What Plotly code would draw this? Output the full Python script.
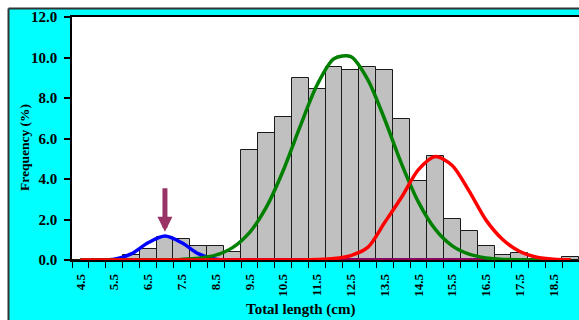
import plotly.graph_objects as go

# Length classes (cm) and observed frequency (%) per 0.5 cm class
lengths = [4.5, 5.0, 5.5, 6.0, 6.5, 7.0, 7.5, 8.0, 8.5, 9.0,
           9.5, 10.0, 10.5, 11.0, 11.5, 12.0, 12.5, 13.0, 13.5, 14.0,
           14.5, 15.0, 15.5, 16.0, 16.5, 17.0, 17.5, 18.0, 18.5, 19.0]
frequency = [0.0, 0.0, 0.0, 0.25, 0.53, 1.12, 1.03, 0.68, 0.68, 0.42,
             5.43, 6.26, 7.08, 8.99, 8.44, 9.55, 9.37, 9.55, 9.37, 6.98,
             3.92, 5.15, 2.01, 1.45, 0.67, 0.23, 0.36, 0.04, 0.0, 0.13]

# Fitted cohort components (%)
cohort_1 = [0.0, 0.0, 0.04, 0.30, 0.85, 1.18, 0.85, 0.30, 0.04, 0.0,
            0.0, 0.0, 0.0, 0.0, 0.0, 0.0, 0.0, 0.0, 0.0, 0.0,
            0.0, 0.0, 0.0, 0.0, 0.0, 0.0, 0.0, 0.0, 0.0, 0.0]
cohort_2 = [0.0, 0.0, 0.0, 0.0, 0.0, 0.0, 0.03, 0.09, 0.24, 0.61,
            1.35, 2.61, 4.42, 6.60, 8.64, 9.94, 10.04, 8.91, 6.95, 4.75,
            2.86, 1.51, 0.70, 0.29, 0.10, 0.03, 0.01, 0.0, 0.0, 0.0]
cohort_3 = [0.0, 0.0, 0.0, 0.0, 0.0, 0.0, 0.0, 0.0, 0.0, 0.0,
            0.0, 0.0, 0.0, 0.0, 0.02, 0.07, 0.22, 0.62, 1.85, 3.10,
            4.46, 5.11, 4.67, 3.40, 1.97, 1.00, 0.42, 0.14, 0.04, 0.01]
residual = [0.0] * len(lengths)

x_ticks = [4.5, 5.5, 6.5, 7.5, 8.5, 9.5, 10.5, 11.5, 12.5, 13.5,
           14.5, 15.5, 16.5, 17.5, 18.5]
y_ticks = [0, 2, 4, 6, 8, 10, 12]

SERIF = "Liberation Serif"
W, H = 579, 320
ML, MR, MT, MB = 72, 0, 17, 60
PW, PH = W - ML - MR, H - MT - MB


def px_x(p):
    return (p - ML) / PW


def px_y(p):
    return (H - MB - p) / PH


fig = go.Figure()

fig.add_trace(go.Bar(
    x=lengths, y=frequency, width=0.5,
    marker=dict(color="#C0C0C0", line=dict(color="#1a1a1a", width=1)),
    showlegend=False,
))

line_style = dict(shape="spline", smoothing=0.8)
fig.add_trace(go.Scatter(x=lengths, y=cohort_1, mode="lines",
                         line=dict(color="#0000FF", width=3.5, **line_style),
                         showlegend=False))
fig.add_trace(go.Scatter(x=lengths, y=residual, mode="lines",
                         line=dict(color="#960046", width=3.5),
                         showlegend=False))
fig.add_trace(go.Scatter(x=lengths, y=cohort_2, mode="lines",
                         line=dict(color="#008000", width=3.5, **line_style),
                         showlegend=False))
fig.add_trace(go.Scatter(x=lengths, y=cohort_3, mode="lines",
                         line=dict(color="#FF0000", width=3.5, **line_style),
                         showlegend=False))

# Arrow marking the first cohort
fig.add_annotation(x=7.0, y=1.40, xref="x", yref="y", text="",
                   showarrow=True, ax=0, ay=-45,
                   arrowhead=2, arrowsize=0.6, arrowwidth=5,
                   arrowcolor="#993366")

# Axis titles
fig.add_annotation(x=px_x(300), y=px_y(309), xref="paper", yref="paper",
                   text="Total length (cm)", showarrow=False,
                   xanchor="center", yanchor="middle",
                   font=dict(family=SERIF, size=15, color="black", weight="bold"))
fig.add_annotation(x=px_x(24), y=px_y(148), xref="paper", yref="paper",
                   text="Frequency (%)", showarrow=False, textangle=-90,
                   xanchor="center", yanchor="middle",
                   font=dict(family=SERIF, size=13.5, color="black", weight="bold"))

# White surround and frame of the chart area
shapes = [
    dict(type="rect", xref="paper", yref="paper", layer="below",
         x0=px_x(-5), x1=px_x(8), y0=px_y(H + 20), y1=px_y(-5),
         fillcolor="white", line=dict(width=0)),
    dict(type="rect", xref="paper", yref="paper", layer="below",
         x0=px_x(-5), x1=px_x(W + 20), y0=px_y(8), y1=px_y(-5),
         fillcolor="white", line=dict(width=0)),
    dict(type="line", xref="paper", yref="paper",
         x0=px_x(8.5), x1=px_x(8.5), y0=px_y(8.5), y1=px_y(H + 20),
         line=dict(color="#333333", width=2)),
    dict(type="line", xref="paper", yref="paper",
         x0=px_x(8.5), x1=px_x(W + 20), y0=px_y(8.5), y1=px_y(8.5),
         line=dict(color="#333333", width=2)),
]

fig.update_layout(
    width=W, height=H,
    margin=dict(l=ML, r=MR, t=MT, b=MB, pad=0),
    paper_bgcolor="#00FFFF",
    plot_bgcolor="white",
    bargap=0,
    shapes=shapes,
    showlegend=False,
)

fig.update_xaxes(
    range=[4.25, 19.25],
    tickmode="array", tickvals=x_ticks,
    ticktext=[f"{v:.1f}" for v in x_ticks],
    tickangle=-90, ticks="", ticklabelstandoff=7,
    tickfont=dict(family=SERIF, size=13, color="black", weight="bold"),
    minor=dict(ticks="outside", tick0=4.25, dtick=0.5, ticklen=6,
               tickwidth=1, tickcolor="black", showgrid=False),
    showline=True, linecolor="black", linewidth=1.5, mirror=True,
    showgrid=False, zeroline=False,
)
fig.update_yaxes(
    range=[0, 12],
    tickmode="array", tickvals=y_ticks,
    ticktext=[f"{v:.1f}" for v in y_ticks],
    ticks="outside", ticklen=6, tickwidth=1.5, tickcolor="black",
    ticklabelstandoff=4,
    tickfont=dict(family=SERIF, size=15, color="black", weight="bold"),
    showline=True, linecolor="black", linewidth=1.5,
    showgrid=False, zeroline=False,
)

fig.write_html("out.html")
